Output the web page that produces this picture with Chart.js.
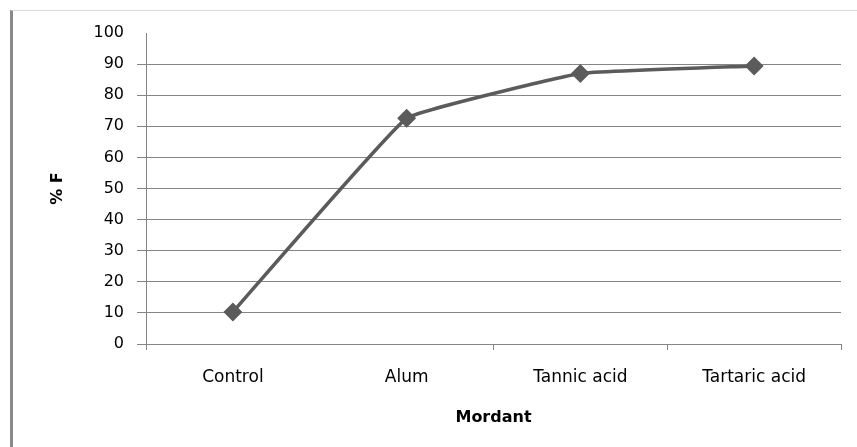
<!DOCTYPE html>
<html lang="en">
<head>
    <meta charset="UTF-8">
    <title>Mordant %F</title>
    <script src="https://cdn.jsdelivr.net/npm/chart.js"></script>
    <style>
        body { margin: 0; background: #fff; }
        #wrap { position: relative; width: 857px; height: 447px; }
        #frame {
            position: absolute; left: 10px; top: 10px; right: 0; bottom: 0;
            border-left: 3px solid #8a8a8a;
            border-top: 1px solid #d9d9d9;
            pointer-events: none;
        }
    </style>
</head>
<body>
    <div id="wrap">
        <canvas id="chart" width="857" height="447"></canvas>
        <div id="frame"></div>
    </div>

    <script>
        const categories = ['Control', 'Alum', 'Tannic acid', 'Tartaric acid'];
        const percentF = [10.3, 72.6, 87.0, 89.4];
        const yTicks = [0, 10, 20, 30, 40, 50, 60, 70, 80, 90, 100];

        const gridColor = '#858585';
        const lineColor = '#5b5b5b';

        new Chart(document.getElementById('chart'), {
            type: 'line',
            data: {
                labels: categories,
                datasets: [{
                    label: '% F',
                    data: percentF,
                    borderColor: lineColor,
                    backgroundColor: lineColor,
                    borderWidth: 3.5,
                    tension: 0.08,
                    pointStyle: 'rectRot',
                    pointRadius: 7,
                    pointHoverRadius: 7
                }]
            },
            options: {
                responsive: false,
                animation: false,
                layout: { padding: { top: 33, right: 16, left: 0, bottom: 0 } },
                plugins: { legend: { display: false }, tooltip: { enabled: false } },
                scales: {
                    x: {
                        offset: true,
                        grid: {
                            offset: true,
                            drawOnChartArea: false,
                            tickLength: 6,
                            color: ctx => ctx.index === 1 ? 'rgba(0,0,0,0)' : gridColor
                        },
                        border: { color: gridColor },
                        ticks: {
                            color: '#000',
                            padding: 17,
                            font: { family: 'DejaVu Sans', size: 17 }
                        },
                        title: {
                            display: true,
                            text: 'Mordant',
                            color: '#000',
                            padding: { top: 20, bottom: 20 },
                            font: { family: 'DejaVu Sans', size: 16, weight: 'bold' }
                        },
                        afterFit: scale => { scale.height = 103; }
                    },
                    y: {
                        min: 0,
                        max: 100,
                        afterBuildTicks: scale => {
                            scale.ticks = yTicks.map(v => ({ value: v }));
                        },
                        grid: {
                            tickLength: 9,
                            color: ctx => ctx.tick && ctx.tick.value === 100 ? 'rgba(0,0,0,0)' : gridColor
                        },
                        border: { color: gridColor },
                        ticks: {
                            color: '#000',
                            padding: 13,
                            font: { family: 'DejaVu Sans', size: 16 }
                        },
                        title: {
                            display: true,
                            text: '% F',
                            color: '#000',
                            padding: { top: 48, bottom: 0 },
                            font: { family: 'DejaVu Sans', size: 16, weight: 'bold' }
                        },
                        afterFit: scale => { scale.width = 146; }
                    }
                }
            }
        });
    </script>
</body>
</html>
